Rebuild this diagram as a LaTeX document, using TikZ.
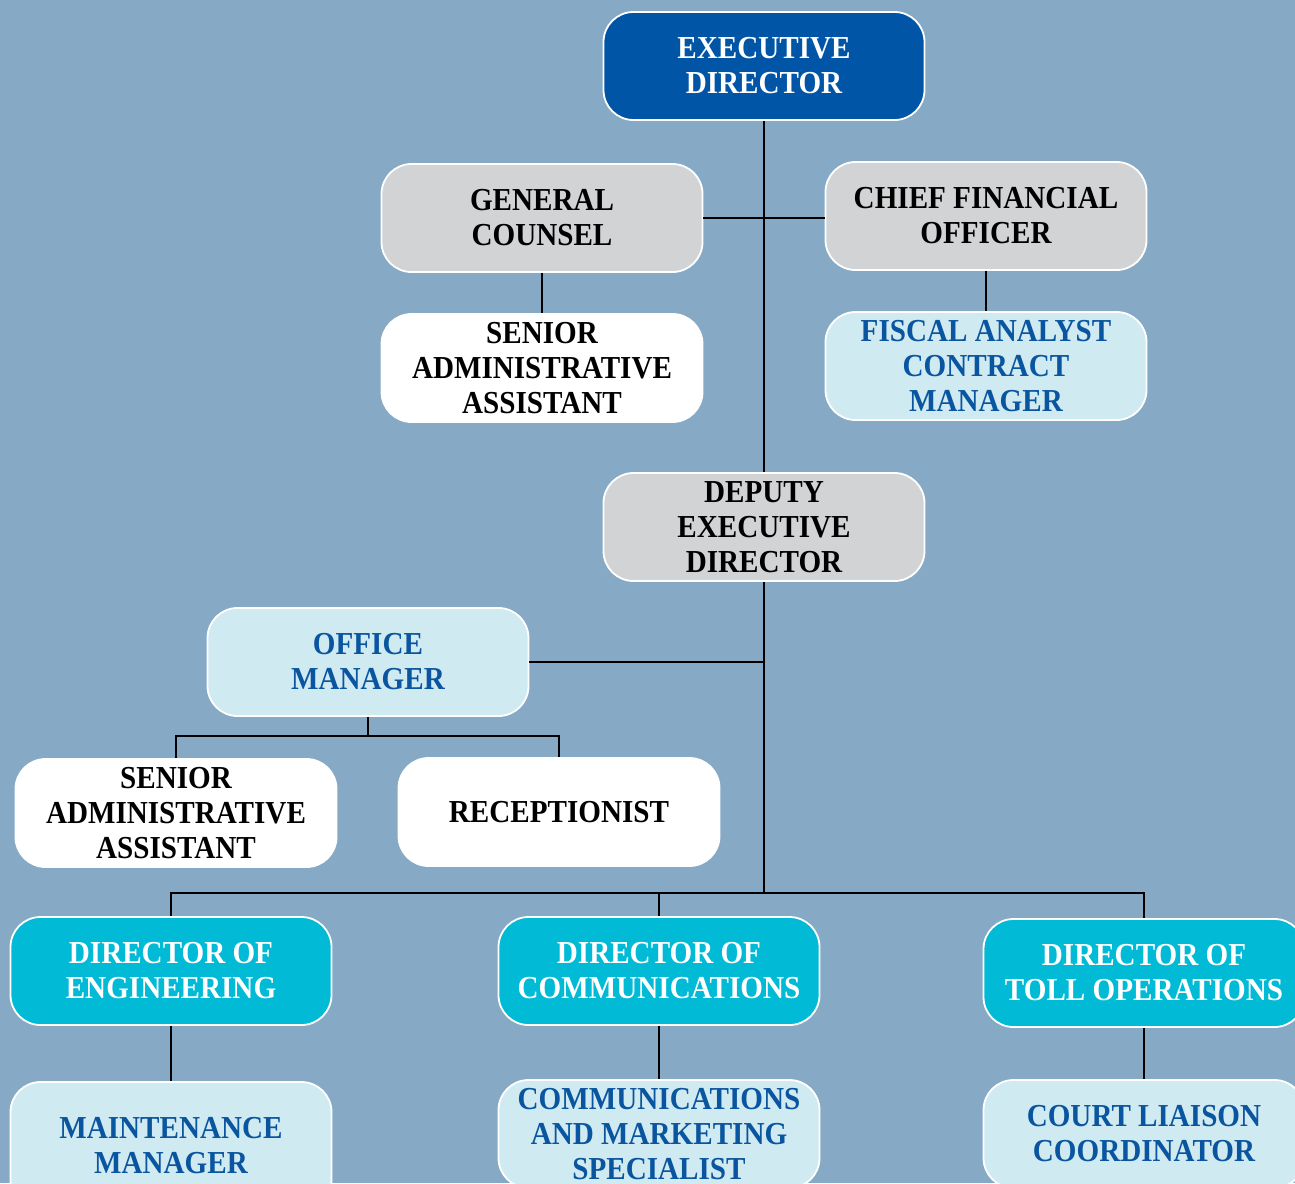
\documentclass[tikz,border=0pt]{standalone}
\usepackage{fontspec}
\setmainfont{Liberation Serif}[FakeStretch=0.91]
\usetikzlibrary{calc}
\definecolor{bg}{HTML}{86A9C5}
\definecolor{dblue}{HTML}{0055A6}
\definecolor{lgray}{HTML}{D1D3D4}
\definecolor{lblue}{HTML}{D0EAF1}
\definecolor{cyanbox}{HTML}{00BAD6}
\definecolor{tblue}{HTML}{0A55A0}
\tikzset{
  box/.style={rounded corners=30pt, draw=white, line width=1.8pt,
    minimum width=321pt, minimum height=108pt, align=center, inner sep=0pt,
    font=\fontsize{32}{35}\selectfont\bfseries},
  topbox/.style={box, fill=dblue, text=white},
  graybox/.style={box, fill=lgray, text=black},
  whitebox/.style={box, fill=white, text=black},
  lightbox/.style={box, fill=lblue, text=tblue},
  dirbox/.style={box, fill=cyanbox, text=white},
  conn/.style={line width=2pt, black}
}
\begin{document}
\begin{tikzpicture}[x=1pt, y=-1pt]
\useasboundingbox (0,0) rectangle (1295,1183);
\clip (0,0) rectangle (1295,1183);
\fill[bg] (0,0) rectangle (1295,1183);
\coordinate (omj) at (368,736);
\coordinate (dj) at (764,893);
\node[topbox] (ed) at (764,66) {EXECUTIVE\\DIRECTOR};
\node[graybox] (gc) at (542,218) {GENERAL\\COUNSEL};
\node[graybox] (cfo) at (986,216) {CHIEF FINANCIAL\\OFFICER};
\node[whitebox] (saa1) at (542,368) {SENIOR\\ADMINISTRATIVE\\ASSISTANT};
\node[lightbox] (fis) at (986,366) {FISCAL ANALYST\\CONTRACT\\MANAGER};
\node[graybox] (ded) at (764,527) {DEPUTY\\EXECUTIVE\\DIRECTOR};
\node[lightbox] (om) at (368,662) {OFFICE\\MANAGER};
\node[whitebox] (saa2) at (176,813) {SENIOR\\ADMINISTRATIVE\\ASSISTANT};
\node[whitebox] (rec) at (559,812) {RECEPTIONIST};
\node[dirbox] (eng) at (171,971) {DIRECTOR OF\\ENGINEERING};
\node[dirbox] (com) at (659,971) {DIRECTOR OF\\COMMUNICATIONS};
\node[dirbox] (toll) at (1144,973) {DIRECTOR OF\\TOLL OPERATIONS};
\node[lightbox, minimum height=128pt] (mm) at (171,1146) {MAINTENANCE\\MANAGER};
\node[lightbox] (cms) at (659,1134) {COMMUNICATIONS\\AND MARKETING\\SPECIALIST};
\node[lightbox] (cl) at (1144,1134) {COURT LIAISON\\COORDINATOR};
\draw[conn] (ed.south) -- (ded.north);
\draw[conn] (gc.east) -- (gc.east -| cfo.west);
\draw[conn] (gc.south) -- (saa1.north);
\draw[conn] (cfo.south) -- (fis.north);
\draw[conn] (ded.south) -- (dj);
\draw[conn] (om.east) -- (om.east -| dj);
\draw[conn] (om.south) -- (omj);
\draw[conn] (saa2.north) |- (omj) -| (rec.north);
\draw[conn] (eng.north) |- (dj) -| (toll.north);
\draw[conn] (com.north) -- (com.north |- dj);
\draw[conn] (eng.south) -- (mm.north);
\draw[conn] (com.south) -- (cms.north);
\draw[conn] (toll.south) -- (cl.north);
\end{tikzpicture}
\end{document}
